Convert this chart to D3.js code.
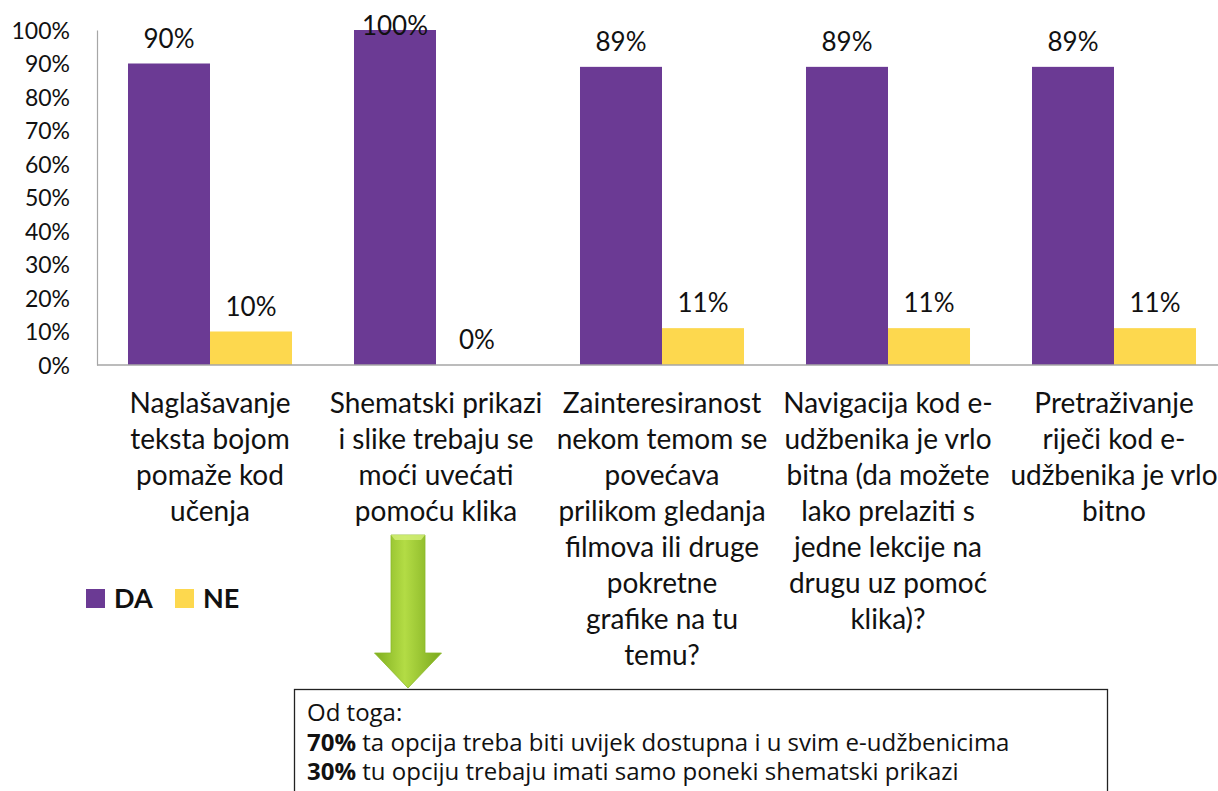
<!DOCTYPE html>
<html>
<head>
<meta charset="utf-8">
<script src="https://cdn.jsdelivr.net/npm/d3@7"></script>
<style>
  body { margin: 0; background: #fff; }
  svg { display: block; font-family: Lato, "Open Sans", sans-serif; }
</style>
</head>
<body>
<svg id="chart" width="1218" height="791"></svg>
<script>

var categories = [
  ["Naglašavanje", "teksta bojom", "pomaže kod", "učenja"],
  ["Shematski prikazi", "i slike trebaju se", "moći uvećati", "pomoću klika"],
  ["Zainteresiranost", "nekom temom se", "povećava", "prilikom gledanja", "filmova ili druge", "pokretne", "grafike na tu", "temu?"],
  ["Navigacija kod e-", "udžbenika je vrlo", "bitna (da možete", "lako prelaziti s", "jedne lekcije na", "drugu uz pomoć", "klika)?"],
  ["Pretraživanje", "riječi kod e-", "udžbenika je vrlo", "bitno"]
];
var seriesNames = ["DA", "NE"];
var daValues = [0.90, 1.00, 0.89, 0.89, 0.89];
var neValues = [0.10, 0.00, 0.11, 0.11, 0.11];
var yTicks = [0, 0.1, 0.2, 0.3, 0.4, 0.5, 0.6, 0.7, 0.8, 0.9, 1.0];
var noteTitle = "Od toga:";
var noteLines = [
  ["70%", " ta opcija treba biti uvijek dostupna i u svim e-udžbenicima"],
  ["30%", " tu opciju trebaju imati samo poneki shematski prikazi"]
];

var colors = { DA: "#6b3a94", NE: "#fdd84e" };

var margin = {top: 30, left: 97, bottom: 365}
  , width = 1218
  , height = 791

var svg = d3.select("#chart");

var catIdx = d3.range(categories.length);

var data = catIdx.map(function(i) {
  return { i: i, values: [ {key: "DA", v: daValues[i]}, {key: "NE", v: neValues[i]} ] };
});

var x0 = d3.scaleBand()
    .domain(catIdx)
    .range([margin.left, margin.left + 226 * categories.length]);

var x1 = d3.scaleBand()
    .domain(seriesNames)
    .range([0, x0.bandwidth()])
    .paddingOuter(0.378);

var y = d3.scaleLinear()
    .domain([0, 1])
    .range([margin.bottom, margin.top]);

// bars
var groups = svg.append("g").selectAll(".grp")
    .data(data)
  .enter().append("g")
    .attr("class", "grp")
    .attr("transform", function(d) { return "translate(" + x0(d.i) + ",0)"; });

groups.selectAll("rect")
    .data(function(d) { return d.values; })
  .enter().append("rect")
    .attr("x", function(d) { return x1(d.key); })
    .attr("y", function(d) { return y(d.v); })
    .attr("width", x1.bandwidth())
    .attr("height", function(d) { return y(0) - y(d.v); })
    .style("fill", function(d) { return colors[d.key]; });

groups.selectAll(".val")
    .data(function(d) { return d.values; })
  .enter().append("text")
    .attr("class", "val")
    .attr("x", function(d) { return x1(d.key) + x1.bandwidth() / 2; })
    .attr("y", function(d) { return Math.max(y(d.v) - 16, 35); })
    .attr("text-anchor", "middle")
    .style("font-size", "26px")
    .style("fill", "#111")
    .text(function(d) { return Math.round(d.v * 100) + "%"; });

// axes
var yAxis = svg.append("g")
    .attr("transform", "translate(" + margin.left + ",0)")
    .call(d3.axisLeft(y).tickValues(yTicks).tickSize(0).tickPadding(27)
      .tickFormat(function(d) { return Math.round(d * 100) + "%"; }));

yAxis.select(".domain").attr("stroke", "#a6a6a6").attr("stroke-width", 1.2);
yAxis.selectAll("text")
    .style("font-size", "23px")
    .style("font-family", "Lato, sans-serif")
    .style("fill", "#111")
    .attr("dy", "0.36em");

svg.append("line")
    .attr("x1", margin.left)
    .attr("x2", width)
    .attr("y1", y(0))
    .attr("y2", y(0))
    .attr("stroke", "#a6a6a6")
    .attr("stroke-width", 1.5);

// category labels
var catLabels = svg.append("g").selectAll(".cat")
    .data(data)
  .enter().append("text")
    .attr("class", "cat")
    .attr("text-anchor", "middle")
    .style("font-size", "28px")
    .style("fill", "#111");

catLabels.selectAll("tspan")
    .data(function(d) { return categories[d.i].map(function(t) { return {t: t, i: d.i}; }); })
  .enter().append("tspan")
    .attr("x", function(d) { return x0(d.i) + x0.bandwidth() / 2; })
    .attr("y", function(d, j) { return 413 + j * 36; })
    .text(function(d) { return d.t; });

// legend
var legend = svg.append("g").selectAll(".leg")
    .data(seriesNames)
  .enter().append("g")
    .attr("class", "leg")
    .attr("transform", function(d, i) { return "translate(" + (86 + i * 89) + ",589)"; });

legend.append("rect")
    .attr("width", 19)
    .attr("height", 19)
    .style("fill", function(d) { return colors[d]; });

legend.append("text")
    .attr("x", 28)
    .attr("y", 19)
    .style("font-size", "27px")
    .style("font-weight", "bold")
    .style("fill", "#111")
    .text(function(d) { return d; });

// green arrow
var defs = svg.append("defs");
var grad = defs.append("linearGradient")
    .attr("id", "arrowGrad")
    .attr("x1", "0%").attr("x2", "100%");
grad.append("stop").attr("offset", "0%").attr("stop-color", "#7fae1f");
grad.append("stop").attr("offset", "45%").attr("stop-color", "#b3dc45");
grad.append("stop").attr("offset", "100%").attr("stop-color", "#7aa81c");

var ax = 408, shaftW = 34, headW = 67, shaftTop = 535, headTop = 653, tip = 688;
svg.append("path")
    .attr("d", "M" + (ax - shaftW/2) + "," + shaftTop +
               "L" + (ax + shaftW/2) + "," + shaftTop +
               "L" + (ax + shaftW/2) + "," + headTop +
               "L" + (ax + headW/2) + "," + headTop +
               "L" + ax + "," + tip +
               "L" + (ax - headW/2) + "," + headTop +
               "L" + (ax - shaftW/2) + "," + headTop + "Z")
    .style("fill", "url(#arrowGrad)")
    .style("stroke", "#8bb92a")
    .style("stroke-width", 0.8);

svg.append("path")
    .attr("d", "M" + (ax - shaftW/2) + "," + shaftTop + "L" + (ax + shaftW/2) + "," + shaftTop +
               "L" + (ax + shaftW/2 - 4) + "," + (shaftTop + 5) + "L" + (ax - shaftW/2 + 4) + "," + (shaftTop + 5) + "Z")
    .style("fill", "#d5f07a")
    .style("opacity", 0.8);

// note box
svg.append("rect")
    .attr("x", 294.5)
    .attr("y", 689.5)
    .attr("width", 813)
    .attr("height", 120)
    .style("fill", "#fff")
    .style("stroke", "#222")
    .style("stroke-width", 1.3);

var note = svg.append("text")
    .style("font-family", "'Open Sans', sans-serif")
    .style("font-size", "24px")
    .style("fill", "#111");

note.append("tspan")
    .attr("x", 307)
    .attr("y", 721)
    .text(noteTitle);

noteLines.forEach(function(line, i) {
  note.append("tspan")
      .attr("x", 307)
      .attr("y", 751 + i * 29)
      .style("font-weight", "bold")
      .text(line[0]);
  note.append("tspan")
      .text(line[1]);
});

</script>
</body>
</html>
